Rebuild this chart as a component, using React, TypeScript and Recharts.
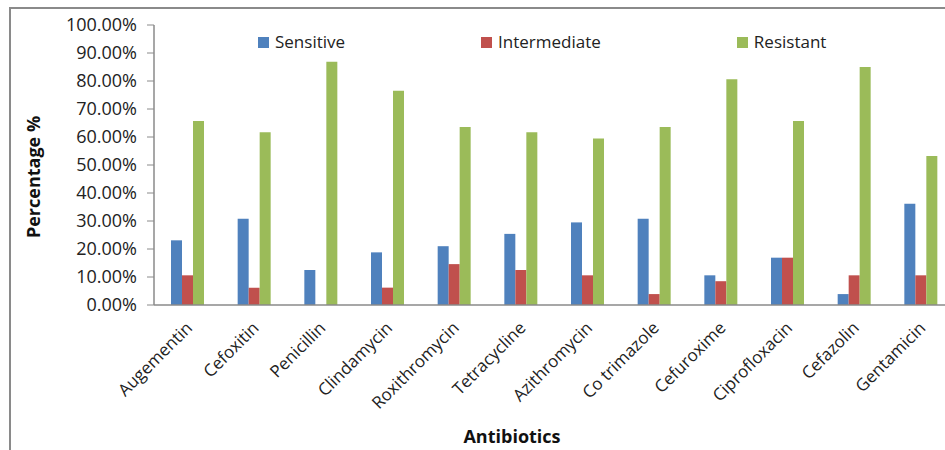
import { Bar, BarChart, XAxis, YAxis } from "recharts";

const categories = [
  "Augementin",
  "Cefoxitin",
  "Penicillin",
  "Clindamycin",
  "Roxithromycin",
  "Tetracycline",
  "Azithromycin",
  "Co trimazole",
  "Cefuroxime",
  "Ciprofloxacin",
  "Cefazolin",
  "Gentamicin",
];

const sensitive = [23.1, 30.8, 12.5, 18.8, 21.0, 25.4, 29.5, 30.8, 10.6, 16.9, 3.9, 36.2];
const intermediate = [10.6, 6.2, 0, 6.2, 14.6, 12.5, 10.6, 3.9, 8.5, 16.9, 10.6, 10.6];
const resistant = [65.7, 61.7, 86.9, 76.5, 63.6, 61.7, 59.5, 63.6, 80.6, 65.7, 85.0, 53.2];

const yTicks = [0, 10, 20, 30, 40, 50, 60, 70, 80, 90, 100];

const seriesNames = ["Sensitive", "Intermediate", "Resistant"];
const seriesColors = ["#4F81BD", "#C0504D", "#9BBB59"];

const FONT = "'Open Sans', sans-serif";

const data = categories.map((name, i) => ({
  name,
  sensitive: sensitive[i],
  intermediate: intermediate[i],
  resistant: resistant[i],
}));

function XTick(props: any) {
  const { x, y, payload } = props;
  const tx = x + 6;
  const ty = y + 16;
  return (
    <text
      x={tx}
      y={ty}
      transform={`rotate(-45, ${tx}, ${ty})`}
      textAnchor="end"
      fontSize={17}
      fontFamily={FONT}
      fill="#222"
    >
      {payload.value}
    </text>
  );
}

// legend drawn outside the svg so it doesn't push the plot down
function LegendRow() {
  return (
    <div
      style={{
        position: "absolute",
        top: 31,
        left: 258,
        display: "flex",
        gap: 136,
        fontFamily: FONT,
        fontSize: 17,
        color: "#222",
        lineHeight: "22px",
      }}
    >
      {seriesNames.map((s, i) => (
        <div key={s} style={{ display: "flex", alignItems: "center" }}>
          <span
            style={{
              display: "inline-block",
              width: 11,
              height: 11,
              background: seriesColors[i],
              marginRight: 6,
            }}
          />
          {s}
        </div>
      ))}
    </div>
  );
}

export default function App() {
  return (
    <div
      style={{
        position: "fixed",
        left: 0,
        top: 0,
        width: 945,
        height: 450,
        overflow: "hidden",
        background: "#fff",
      }}
    >
      {/* outer chart frame, cropped on the right and bottom like the source */}
      <div
        style={{
          position: "absolute",
          left: 9,
          top: 7,
          width: 980,
          height: 480,
          border: "2px solid #8a8a8a",
        }}
      />
      <div style={{ position: "absolute", left: 0, top: 0 }}>
        <BarChart
          width={960}
          height={450}
          data={data}
          margin={{ top: 25, right: 6, bottom: 0, left: 0 }}
          barSize={11}
          barGap={0}
        >
          <XAxis
            dataKey="name"
            height={145}
            interval={0}
            tickLine={false}
            axisLine={{ stroke: "#8a8a8a", strokeWidth: 1.5 }}
            tick={<XTick />}
            label={{
              content: () => (
                <text
                  x={512}
                  y={443}
                  textAnchor="middle"
                  fontSize={18}
                  fontWeight="bold"
                  fontFamily={FONT}
                  fill="#111"
                >
                  Antibiotics
                </text>
              ),
            }}
          />
          <YAxis
            width={154}
            domain={[0, 100]}
            ticks={yTicks}
            interval={0}
            tickSize={7}
            tickMargin={10}
            tickFormatter={(v: number) => v.toFixed(2) + "%"}
            tick={{ fontSize: 18, fontFamily: FONT, fill: "#222" }}
            axisLine={{ stroke: "#8a8a8a", strokeWidth: 1.5 }}
            tickLine={{ stroke: "#8a8a8a" }}
            label={{
              content: () => (
                <text
                  x={40}
                  y={177}
                  transform="rotate(-90, 40, 177)"
                  textAnchor="middle"
                  fontSize={18}
                  fontWeight="bold"
                  fontFamily={FONT}
                  fill="#111"
                >
                  Percentage %
                </text>
              ),
            }}
          />
          <Bar dataKey="sensitive" name="Sensitive" fill={seriesColors[0]} isAnimationActive={false} />
          <Bar dataKey="intermediate" name="Intermediate" fill={seriesColors[1]} isAnimationActive={false} />
          <Bar dataKey="resistant" name="Resistant" fill={seriesColors[2]} isAnimationActive={false} />
        </BarChart>
      </div>
      <LegendRow />
    </div>
  );
}
